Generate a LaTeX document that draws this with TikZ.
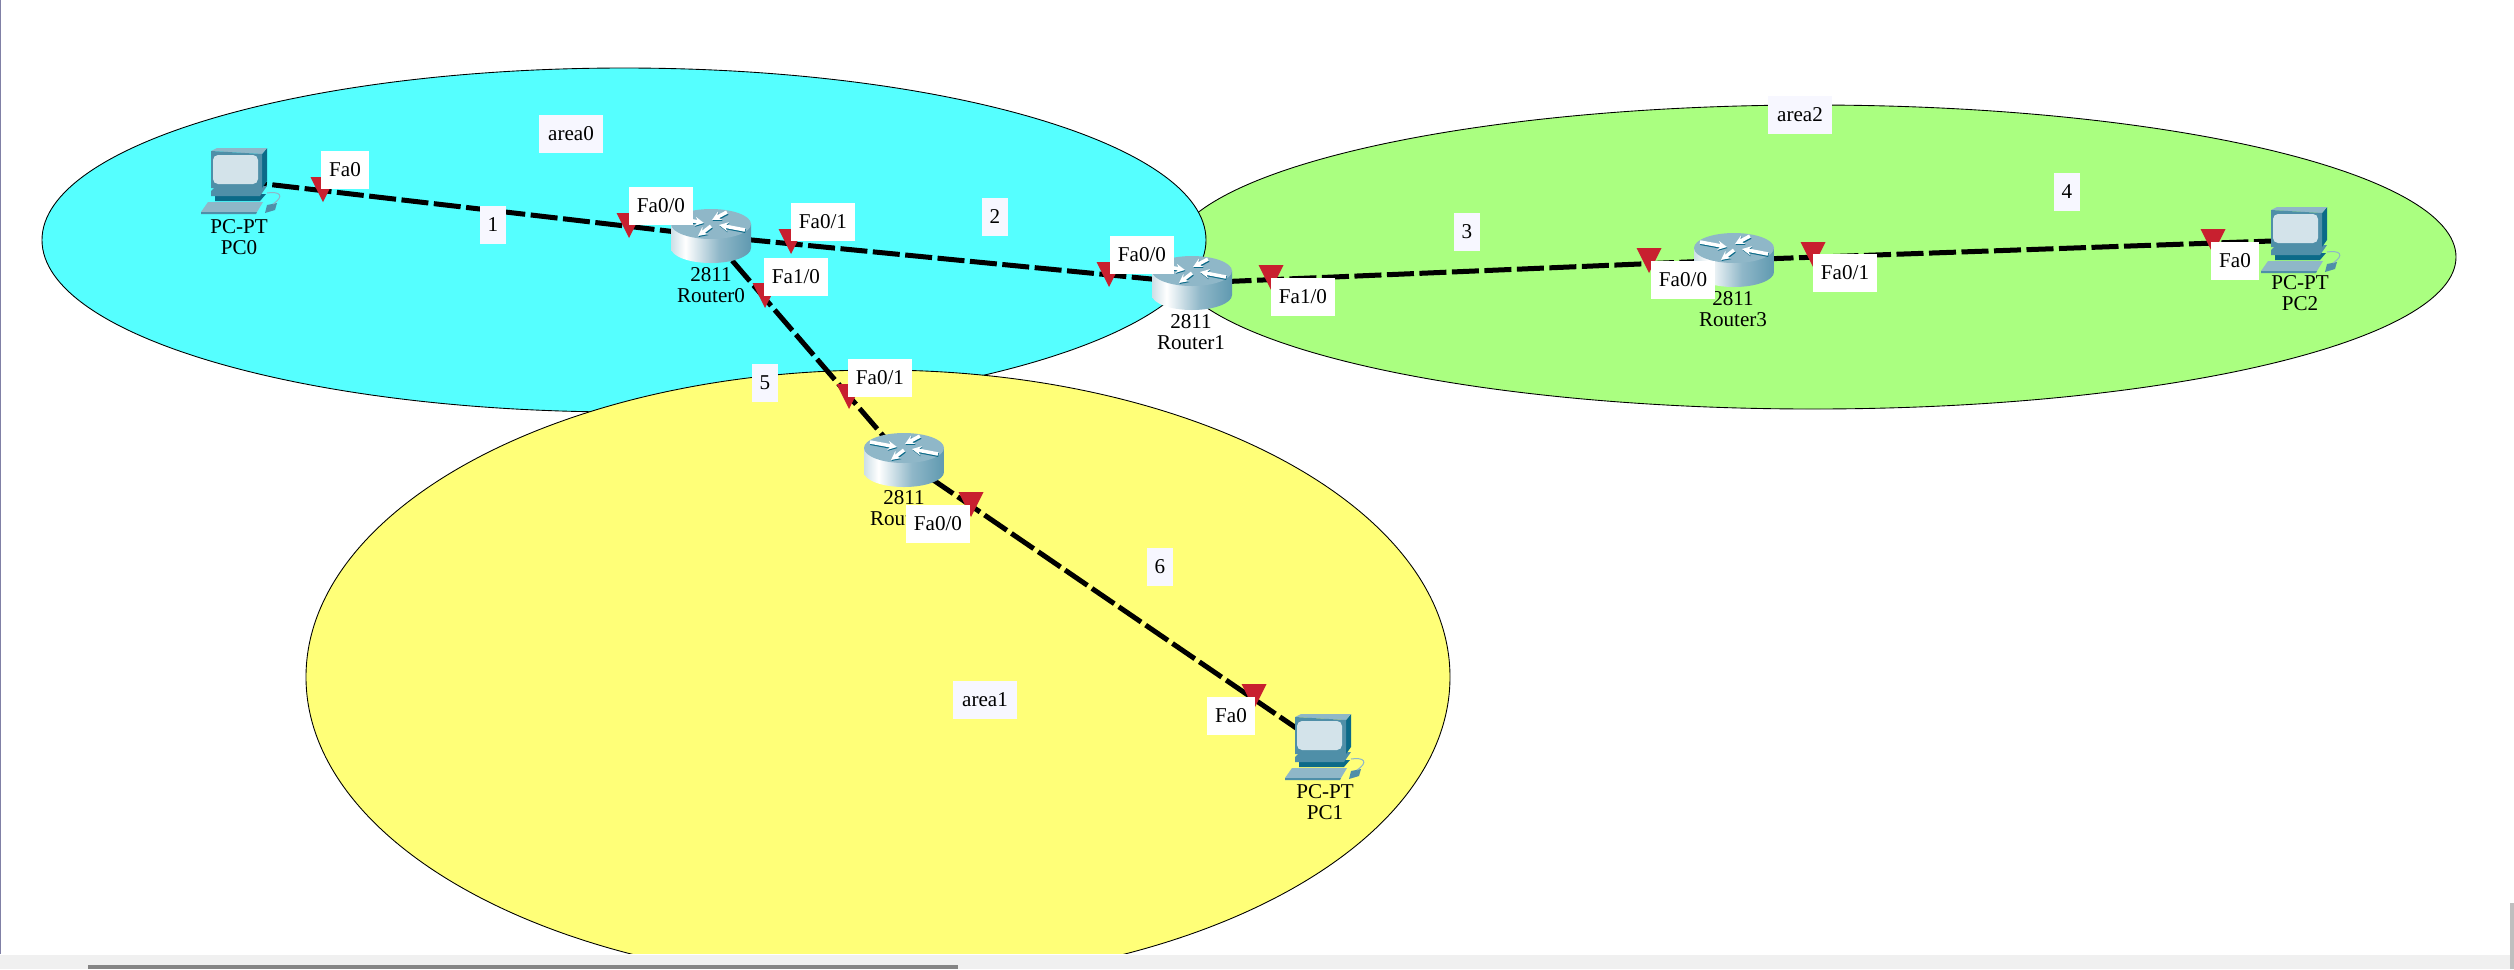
\documentclass[tikz,border=0pt]{standalone}
\usepackage{xcolor}
\usepackage{fontspec}
\setmainfont{Liberation Serif}
\usetikzlibrary{arrows.meta}

\definecolor{areablue}{HTML}{55FFFF}
\definecolor{areagreen}{HTML}{AAFF80}
\definecolor{areayellow}{HTML}{FFFF78}
\definecolor{portred}{HTML}{C8202F}
\definecolor{paleblue}{HTML}{8FB7C8}
\definecolor{midblue}{HTML}{4F8FA8}
\definecolor{deepblue}{HTML}{0B6A88}
\definecolor{screenblue}{HTML}{D3E3EA}

\pgfdeclarehorizontalshading{routerbody}{100bp}{
  color(0bp)=(midblue); color(14bp)=(paleblue); color(34bp)=(white);
  color(55bp)=(paleblue); color(82bp)=(midblue); color(100bp)=(deepblue)}

\begin{document}
\begin{tikzpicture}[
  x=0.01cm, y=-0.01cm,
  areazone/.style={draw=black, line width=0.25pt},
  netlink/.style={draw=black, line width=0.05cm, dash pattern=on 0.27cm off 0.055cm},
  devcap/.style={font=\fontsize{6}{6}\selectfont, align=center, inner sep=0pt},
  portlabel/.style={fill=white, minimum height=0.38cm, inner xsep=0.08cm, inner ysep=0pt, font=\fontsize{6}{6}\selectfont},
  zonelabel/.style={portlabel, fill=blue!3!white},
  routericon/.pic={
    \shade[shading=routerbody] (-40,-12) -- (-40,12) arc[start angle=180, end angle=360, x radius=40, y radius=-15] -- (40,-12) -- cycle;
    \fill[paleblue] (0,-12) ellipse [x radius=40, y radius=15];
    \foreach \ax/\ay/\bx/\by in {-34/-18/-7/-13, 16/-24/1/-16, 34/-6/8/-11, 0/-10/-13/0} {
      \draw[deepblue, line width=0.04cm, -{Stealth[length=0.09cm,width=0.09cm]}] (\ax+0.5,\ay+1) -- (\bx+0.5,\by+1);
      \draw[white, line width=0.035cm, -{Stealth[length=0.09cm,width=0.09cm]}] (\ax,\ay) -- (\bx,\by);
    }
  },
  pcicon/.pic={
    % keyboard and mouse
    \fill[paleblue] (-39,31) -- (-32,21) -- (23,21) -- (17,31) -- cycle;
    \fill[midblue] (-39,31) -- (17,31) -- (16,33) -- (-39,33) -- cycle;
    \fill[midblue] (25,32) -- (27,24) -- (37,22) -- (35,29) -- cycle;
    \draw[paleblue, line width=0.01cm] (27,12) .. controls (40,10) and (45,15) .. (33,23);
    % stand
    \fill[deepblue] (-25,13) -- (26,13) -- (20,20) -- (-25,20) -- cycle;
    \fill[midblue] (-29,10) -- (-25,6) -- (27,5) -- (20,15) -- (-29,15) -- cycle;
    % monitor
    \fill[deepblue] (22,-27) -- (27,-33) -- (27,0) -- (22,7) -- cycle;
    \fill[paleblue] (-29,-30) -- (-23,-33) -- (27,-33) -- (22,-27) -- cycle;
    \fill[midblue] (-29,-30) -- (22,-27) -- (22,7) -- (-29,7) -- cycle;
    \fill[screenblue, rounded corners=0.05cm] (-27,-26) rectangle (18,3);
  },
]
\useasboundingbox (0,0) rectangle (2514,969);

% --- areas ---
\begin{scope}
\clip (0,0) rectangle (2514,953);
\fill[areagreen] (1813,257) ellipse [x radius=643, y radius=152];
\draw[areazone] (1813,257) ellipse [x radius=643, y radius=152];
\fill[areablue] (624,240) ellipse [x radius=582, y radius=172];
\draw[areazone] (624,240) ellipse [x radius=582, y radius=172];
\fill[areayellow] (878,677) ellipse [x radius=572, y radius=307];
\draw[areazone] (878,677) ellipse [x radius=572, y radius=307];
\end{scope}

% --- devices ---
\coordinate (PC0) at (240,181);
\coordinate (PC1) at (1324,747);
\coordinate (PC2) at (2300,240);
\coordinate (Router0) at (711,236);
\coordinate (Router1) at (1192,283);
\coordinate (Router2) at (904,460);
\coordinate (Router3) at (1734,260);

% --- links ---
\draw[netlink] (PC0) -- (Router0);
\draw[netlink] (Router0) -- (Router1);
\draw[netlink] (Router1) -- (Router3);
\draw[netlink] (Router3) -- (PC2);
\draw[netlink] (Router0) -- (Router2);
\draw[netlink] (Router2) -- (PC1);

\foreach \dev in {PC0, PC1, PC2} {
  \pic at (\dev) {pcicon};
}
\foreach \dev in {Router0, Router1, Router2, Router3} {
  \pic at (\dev) {routericon};
}

\node[devcap] (capPC0) at (239,237) {PC-PT\\PC0};
\node[devcap] (capPC1) at (1325,802) {PC-PT\\PC1};
\node[devcap] (capPC2) at (2300,293) {PC-PT\\PC2};
\node[devcap] (capRouter0) at (711,285) {2811\\Router0};
\node[devcap] (capRouter1) at (1191,332) {2811\\Router1};
\node[devcap] (capRouter2) at (904,508) {2811\\Router2};
\node[devcap] (capRouter3) at (1733,309) {2811\\Router3};

% --- port marks ---
\foreach \tipx/\tipy in {
  323/202, 629/238, 791/254, 765/308, 1109/287, 1271/290,
  1649/273, 1813/267, 2213/254, 849/409, 971/517, 1254/709}
{
  \fill[portred] (\tipx,\tipy) -- ++(-12.5,-25) -- ++(25,0) -- cycle;
}

% --- port labels ---
\node[portlabel] (fa0pc0) at (345,170) {Fa0};
\node[portlabel] (fa00r0) at (661,206) {Fa0/0};
\node[portlabel] (fa01r0) at (823,222) {Fa0/1};
\node[portlabel] (fa10r0) at (796,277) {Fa1/0};
\node[portlabel] (fa00r1) at (1142,255) {Fa0/0};
\node[portlabel] (fa10r1) at (1303,297) {Fa1/0};
\node[portlabel] (fa00r3) at (1683,280) {Fa0/0};
\node[portlabel] (fa01r3) at (1845,273) {Fa0/1};
\node[portlabel] (fa0pc2) at (2235,261) {Fa0};
\node[portlabel] (fa01r2) at (880,378) {Fa0/1};
\node[portlabel] (fa00r2) at (938,524) {Fa0/0};
\node[portlabel] (fa0pc1) at (1231,716) {Fa0};

% --- link and area labels ---
\node[zonelabel] (num1) at (493,225) {1};
\node[zonelabel] (num2) at (995,217) {2};
\node[zonelabel] (num3) at (1467,232) {3};
\node[zonelabel] (num4) at (2067,192) {4};
\node[zonelabel] (num5) at (765,383) {5};
\node[zonelabel] (num6) at (1160,567) {6};
\node[zonelabel, minimum width=0.64cm] (area0) at (571,134) {area0};
\node[zonelabel, minimum width=0.64cm] (area1) at (985,700) {area1};
\node[zonelabel, minimum width=0.64cm] (area2) at (1800,115) {area2};

% --- window edges ---
\fill[blue!30!black!50] (0,0) rectangle (1.5,954);
\fill[black!6] (0,955) rectangle (2514,969);
\fill[black!48] (88,965) rectangle (958,969);
\fill[black!25] (2510,903) rectangle (2514,969);

\end{tikzpicture}
\end{document}
